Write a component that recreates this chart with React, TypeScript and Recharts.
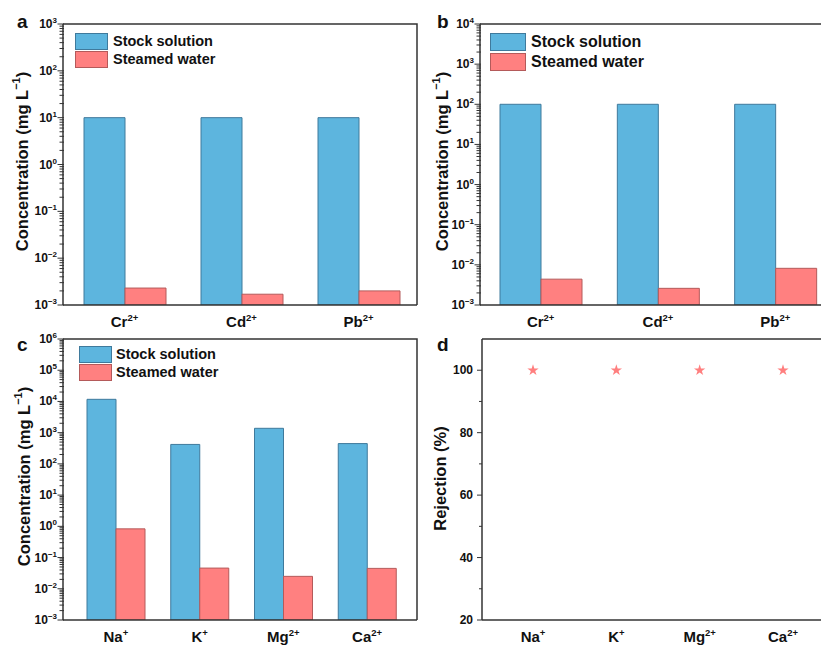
import React from 'react';
import { ComposedChart, Bar, Scatter, XAxis, YAxis, ZAxis, Legend } from 'recharts';

// panel a / b : heavy metal ions
const metalIons = ['Cr', 'Cd', 'Pb'];
const metalCharges = ['2+', '2+', '2+'];
const stockA = [10, 10, 10];
const steamA = [0.0023, 0.0017, 0.002];
const stockB = [100, 100, 100];
const steamB = [0.0044, 0.0026, 0.0082];

// panel c / d : seawater ions
const saltIons = ['Na', 'K', 'Mg', 'Ca'];
const saltCharges = ['+', '+', '2+', '2+'];
const stockC = [11700, 420, 1380, 447];
const steamC = [0.83, 0.046, 0.025, 0.045];
const rejectionD = [100, 100, 100, 100];

const rejectionTicks = [20, 30, 40, 50, 60, 70, 80, 90, 100];

const FONT = '"Liberation Sans", Arial, sans-serif';
const AXIS = '#333';
const BLUE = '#5db5de';
const BLUE_EDGE = '#3f7a9c';
const RED = '#ff8080';
const RED_EDGE = '#b45a5a';

const logTicks = (lo: number, hi: number) => {
  const t: number[] = [];
  for (let e = lo; e < hi; e++) for (let k = 1; k < 10; k++) t.push(k * 10 ** e);
  t.push(10 ** hi);
  return t;
};

const LogTick = (props: any) => {
  const { x, y, payload } = props;
  const v = payload.value;
  const e = Math.floor(Math.log10(v) + 1e-9);
  const major = Math.abs(v / 10 ** e - 1) < 1e-6;
  return (
    <g>
      <line x1={x + 1} x2={x - (major ? 5.5 : 3.5)} y1={y} y2={y} stroke={AXIS} strokeWidth={1} />
      {major && (
        <text x={x - 6} y={y + 4} textAnchor="end" fontSize={12} fontWeight="bold" fill="#111" fontFamily={FONT}>
          10<tspan dy={-5} fontSize={8}>{e < 0 ? `−${-e}` : `${e}`}</tspan>
        </text>
      )}
    </g>
  );
};

const LinTick = (props: any) => {
  const { x, y, payload } = props;
  const major = payload.value % 20 === 0;
  return (
    <g>
      <line x1={x} x2={x - (major ? 5 : 3)} y1={y} y2={y} stroke={AXIS} strokeWidth={1} />
      {major && (
        <text x={x - 9} y={y + 4} textAnchor="end" fontSize={12} fontWeight="bold" fill="#111" fontFamily={FONT}>
          {payload.value}
        </text>
      )}
    </g>
  );
};

const ionTick = (charges: string[]) => (props: any) => {
  const { x, y, payload } = props;
  return (
    <text x={x} y={y + 22} textAnchor="middle" fontSize={15} fontWeight="bold" fill="#111" fontFamily={FONT}>
      {payload.value}
      <tspan dy={-6} fontSize={9.5}>{charges[payload.index]}</tspan>
    </text>
  );
};

const yTitle = (text: string, sup: string | null, dx: number, dy: number) => (props: any) => {
  const { x, y, width, height } = props.viewBox;
  const cx = x + width - dx;
  const cy = y + height / 2 + dy;
  return (
    <text
      x={cx}
      y={cy}
      transform={`rotate(-90 ${cx} ${cy})`}
      textAnchor="middle"
      dominantBaseline="central"
      fontSize={16.5}
      fontWeight="bold"
      fill="#111"
      fontFamily={FONT}
    >
      {text}
      {sup && (
        <>
          <tspan dy={-6} fontSize={11}>{sup}</tspan>
          <tspan dy={6}>)</tspan>
        </>
      )}
    </text>
  );
};

const legendBox = (fontSize: number, sw: number, sh: number, rowH: number, gap: number) => () => (
  <div style={{ fontFamily: FONT, fontWeight: 'bold', fontSize, color: '#111', lineHeight: 1 }}>
    {[
      { label: 'Stock solution', fill: BLUE, edge: BLUE_EDGE },
      { label: 'Steamed water', fill: RED, edge: RED_EDGE },
    ].map((it) => (
      <div key={it.label} style={{ display: 'flex', alignItems: 'center', height: rowH }}>
        <span
          style={{
            display: 'inline-block',
            width: sw,
            height: sh,
            background: it.fill,
            border: `1px solid ${it.edge}`,
            boxSizing: 'border-box',
            marginRight: gap,
          }}
        />
        <span style={{ whiteSpace: 'nowrap' }}>{it.label}</span>
      </div>
    ))}
  </div>
);

type PanelProps = {
  width: number;
  height: number;
  margin: { top: number; right: number; bottom: number; left: number };
  ions: string[];
  charges: string[];
  stock: number[];
  steam: number[];
  expLo: number;
  expHi: number;
  pad: { left: number; right: number };
  barSize: number;
  titleDx: number;
  legendPos: { left: number; top: number };
  legend: () => React.ReactElement;
};

const ConcPanel = (p: PanelProps) => {
  const rows = p.ions.map((ion, i) => ({ ion, stock: p.stock[i], steam: p.steam[i] }));
  return (
    <ComposedChart width={p.width} height={p.height} data={rows} margin={p.margin} barGap={0}>
      <XAxis
        dataKey="ion"
        height={25}
        padding={p.pad}
        interval={0}
        tickSize={0}
        tickMargin={0}
        tickLine={false}
        tick={ionTick(p.charges)}
        axisLine={{ stroke: AXIS, strokeWidth: 1.5 }}
      />
      <YAxis
        type="number"
        scale="log"
        domain={[10 ** p.expLo, 10 ** p.expHi]}
        allowDataOverflow
        ticks={logTicks(p.expLo, p.expHi)}
        interval={0}
        width={50}
        tickSize={0}
        tickMargin={0}
        tickLine={false}
        tick={<LogTick />}
        axisLine={{ stroke: AXIS, strokeWidth: 1.5 }}
        label={{ content: yTitle('Concentration (mg L', '−1', p.titleDx, -3) }}
      />
      {/* legend sits inside the plot; middle/center keeps it out of the offset */}
      <Legend
        layout="vertical"
        align="center"
        verticalAlign="middle"
        content={p.legend}
        wrapperStyle={{ left: p.legendPos.left, top: p.legendPos.top, width: 'auto' }}
      />
      <Bar dataKey="stock" fill={BLUE} stroke={BLUE_EDGE} strokeWidth={1} barSize={p.barSize} isAnimationActive={false} />
      <Bar dataKey="steam" fill={RED} stroke={RED_EDGE} strokeWidth={1} barSize={p.barSize} isAnimationActive={false} />
    </ComposedChart>
  );
};

const RejectionPanel = () => {
  const rows = saltIons.map((ion, i) => ({ ion, rejection: rejectionD[i] }));
  return (
    <ComposedChart width={430} height={325} data={rows} margin={{ top: 19, right: 4, bottom: 0, left: 22 }}>
      <XAxis
        dataKey="ion"
        height={25}
        padding={{ left: 51, right: 53 }}
        interval={0}
        tickSize={0}
        tickMargin={0}
        tickLine={false}
        tick={ionTick(saltCharges)}
        axisLine={{ stroke: AXIS, strokeWidth: 1.5 }}
      />
      <YAxis
        type="number"
        domain={[20, 110]}
        ticks={rejectionTicks}
        interval={0}
        width={50}
        tickSize={0}
        tickMargin={0}
        tickLine={false}
        tick={<LinTick />}
        axisLine={{ stroke: AXIS, strokeWidth: 1.5 }}
        label={{ content: yTitle('Rejection (%)', null, 42, -1) }}
      />
      <ZAxis range={[40, 40]} />
      <Scatter dataKey="rejection" fill="#ff7f7f" shape="star" isAnimationActive={false} />
    </ComposedChart>
  );
};

const letterStyle = { fontFamily: FONT, fontWeight: 'bold' as const, fontSize: 19, fill: '#111' };

// plot frames (top and right edges of each panel box)
const frames = [
  { l: 63, t: 24, r: 417, b: 305 },
  { l: 480, t: 24, r: 834, b: 305 },
  { l: 63, t: 339, r: 417, b: 620 },
  { l: 482, t: 339, r: 836, b: 620 },
];

export default function App() {
  return (
    <div style={{ position: 'absolute', left: 0, top: 0, width: 821, height: 645, overflow: 'hidden', background: '#fff' }}>
      <div style={{ position: 'absolute', left: 0, top: 0 }}>
        <ConcPanel
          width={420}
          height={330}
          margin={{ top: 24, right: 3, bottom: 0, left: 13 }}
          ions={metalIons}
          charges={metalCharges}
          stock={stockA}
          steam={steamA}
          expLo={-3}
          expHi={3}
          pad={{ left: 3, right: 0 }}
          barSize={41}
          titleDx={41.5}
          legendPos={{ left: 75, top: 32 }}
          legend={legendBox(14.5, 33, 17, 18, 5)}
        />
      </div>
      <div style={{ position: 'absolute', left: 410, top: 0 }}>
        <ConcPanel
          width={430}
          height={330}
          margin={{ top: 24, right: 6, bottom: 0, left: 20 }}
          ions={metalIons}
          charges={metalCharges}
          stock={stockB}
          steam={steamB}
          expLo={-3}
          expHi={4}
          pad={{ left: 2, right: 0 }}
          barSize={41}
          titleDx={38}
          legendPos={{ left: 80, top: 32 }}
          legend={legendBox(16, 36, 18, 20, 5)}
        />
      </div>
      <div style={{ position: 'absolute', left: 0, top: 320 }}>
        <ConcPanel
          width={420}
          height={325}
          margin={{ top: 19, right: 3, bottom: 0, left: 13 }}
          ions={saltIons}
          charges={saltCharges}
          stock={stockC}
          steam={steamC}
          expLo={-3}
          expHi={6}
          pad={{ left: 11, right: 8 }}
          barSize={29}
          titleDx={39}
          legendPos={{ left: 79, top: 25 }}
          legend={legendBox(14.5, 33, 17, 18, 4)}
        />
      </div>
      <div style={{ position: 'absolute', left: 410, top: 320 }}>
        <RejectionPanel />
      </div>
      <svg width={821} height={645} style={{ position: 'absolute', left: 0, top: 0, pointerEvents: 'none' }}>
        {frames.map((f, i) => (
          <polyline key={i} points={`${f.l},${f.t} ${f.r},${f.t} ${f.r},${f.b}`} fill="none" stroke={AXIS} strokeWidth={1.5} />
        ))}
        <text x={17} y={28} {...letterStyle}>a</text>
        <text x={437} y={28} {...letterStyle}>b</text>
        <text x={17} y={351} {...letterStyle}>c</text>
        <text x={437} y={351} {...letterStyle}>d</text>
      </svg>
    </div>
  );
}
